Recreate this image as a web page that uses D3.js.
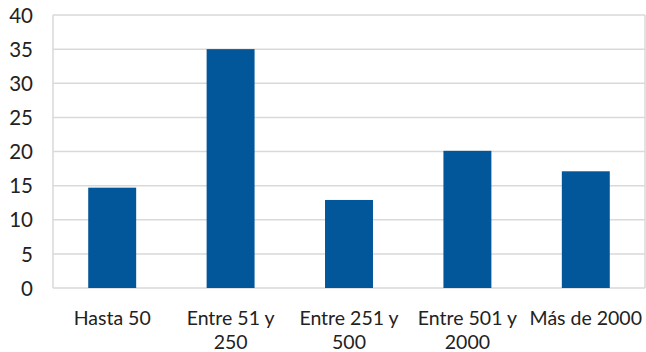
<!DOCTYPE html>
<html><head><meta charset="utf-8">
<script src="https://cdn.jsdelivr.net/npm/d3@7"></script>
<style>body{margin:0;background:#fff}svg{display:block}text{font-family:Lato,"Open Sans",sans-serif;fill:#222}</style>
</head><body><svg id="c" width="646" height="352"></svg>
<script>
const categories = ["Hasta 50","Entre 51 y 250","Entre 251 y 500","Entre 501 y 2000","Más de 2000"];
const labelLines = [["Hasta 50"],["Entre 51 y","250"],["Entre 251 y","500"],["Entre 501 y","2000"],["Más de 2000"]];
const values = [14.7, 35, 12.9, 20.1, 17.1];
const yTicks = [0,5,10,15,20,25,30,35,40];

const svg = d3.select("#c");
const L=53,R=645,T=15,B=288;
const x = d3.scaleBand().domain(categories).range([L,R]).paddingInner(0.595).paddingOuter(0.2975);
const y = d3.scaleLinear().domain([0,40]).range([B,T]);

svg.append("g").selectAll("line").data(yTicks).join("line")
  .attr("x1",L).attr("x2",R).attr("y1",d=>y(d)).attr("y2",d=>y(d))
  .attr("stroke","#d9d9d9").attr("stroke-width",1.5);
svg.append("line").attr("x1",L).attr("x2",L).attr("y1",T).attr("y2",B).attr("stroke","#d9d9d9").attr("stroke-width",1.5);
svg.append("line").attr("x1",R).attr("x2",R).attr("y1",T).attr("y2",B).attr("stroke","#d9d9d9").attr("stroke-width",1.5);

svg.append("g").selectAll("rect").data(values).join("rect")
  .attr("x",(d,i)=>x(categories[i])).attr("width",x.bandwidth())
  .attr("y",d=>y(d)).attr("height",d=>B-y(d)).attr("fill","#02579a");

const yAxis = d3.axisLeft(y).tickValues(yTicks).tickSize(0).tickPadding(20);
const ga = svg.append("g").attr("transform",`translate(${L},0)`).call(yAxis);
ga.select(".domain").remove();
ga.selectAll("text").attr("font-size",20.5).attr("font-family","Lato,'Open Sans',sans-serif").attr("fill","#222").attr("dy","0.35em");

const gx = svg.append("g");
categories.forEach((c,i)=>{
  const t = gx.append("text").attr("text-anchor","middle").attr("font-size",19.5)
    .attr("x",x(c)+x.bandwidth()/2).attr("y",325);
  labelLines[i].forEach((ln,j)=>t.append("tspan").attr("x",x(c)+x.bandwidth()/2).attr("y",325+j*24).text(ln));
});
</script></body></html>
